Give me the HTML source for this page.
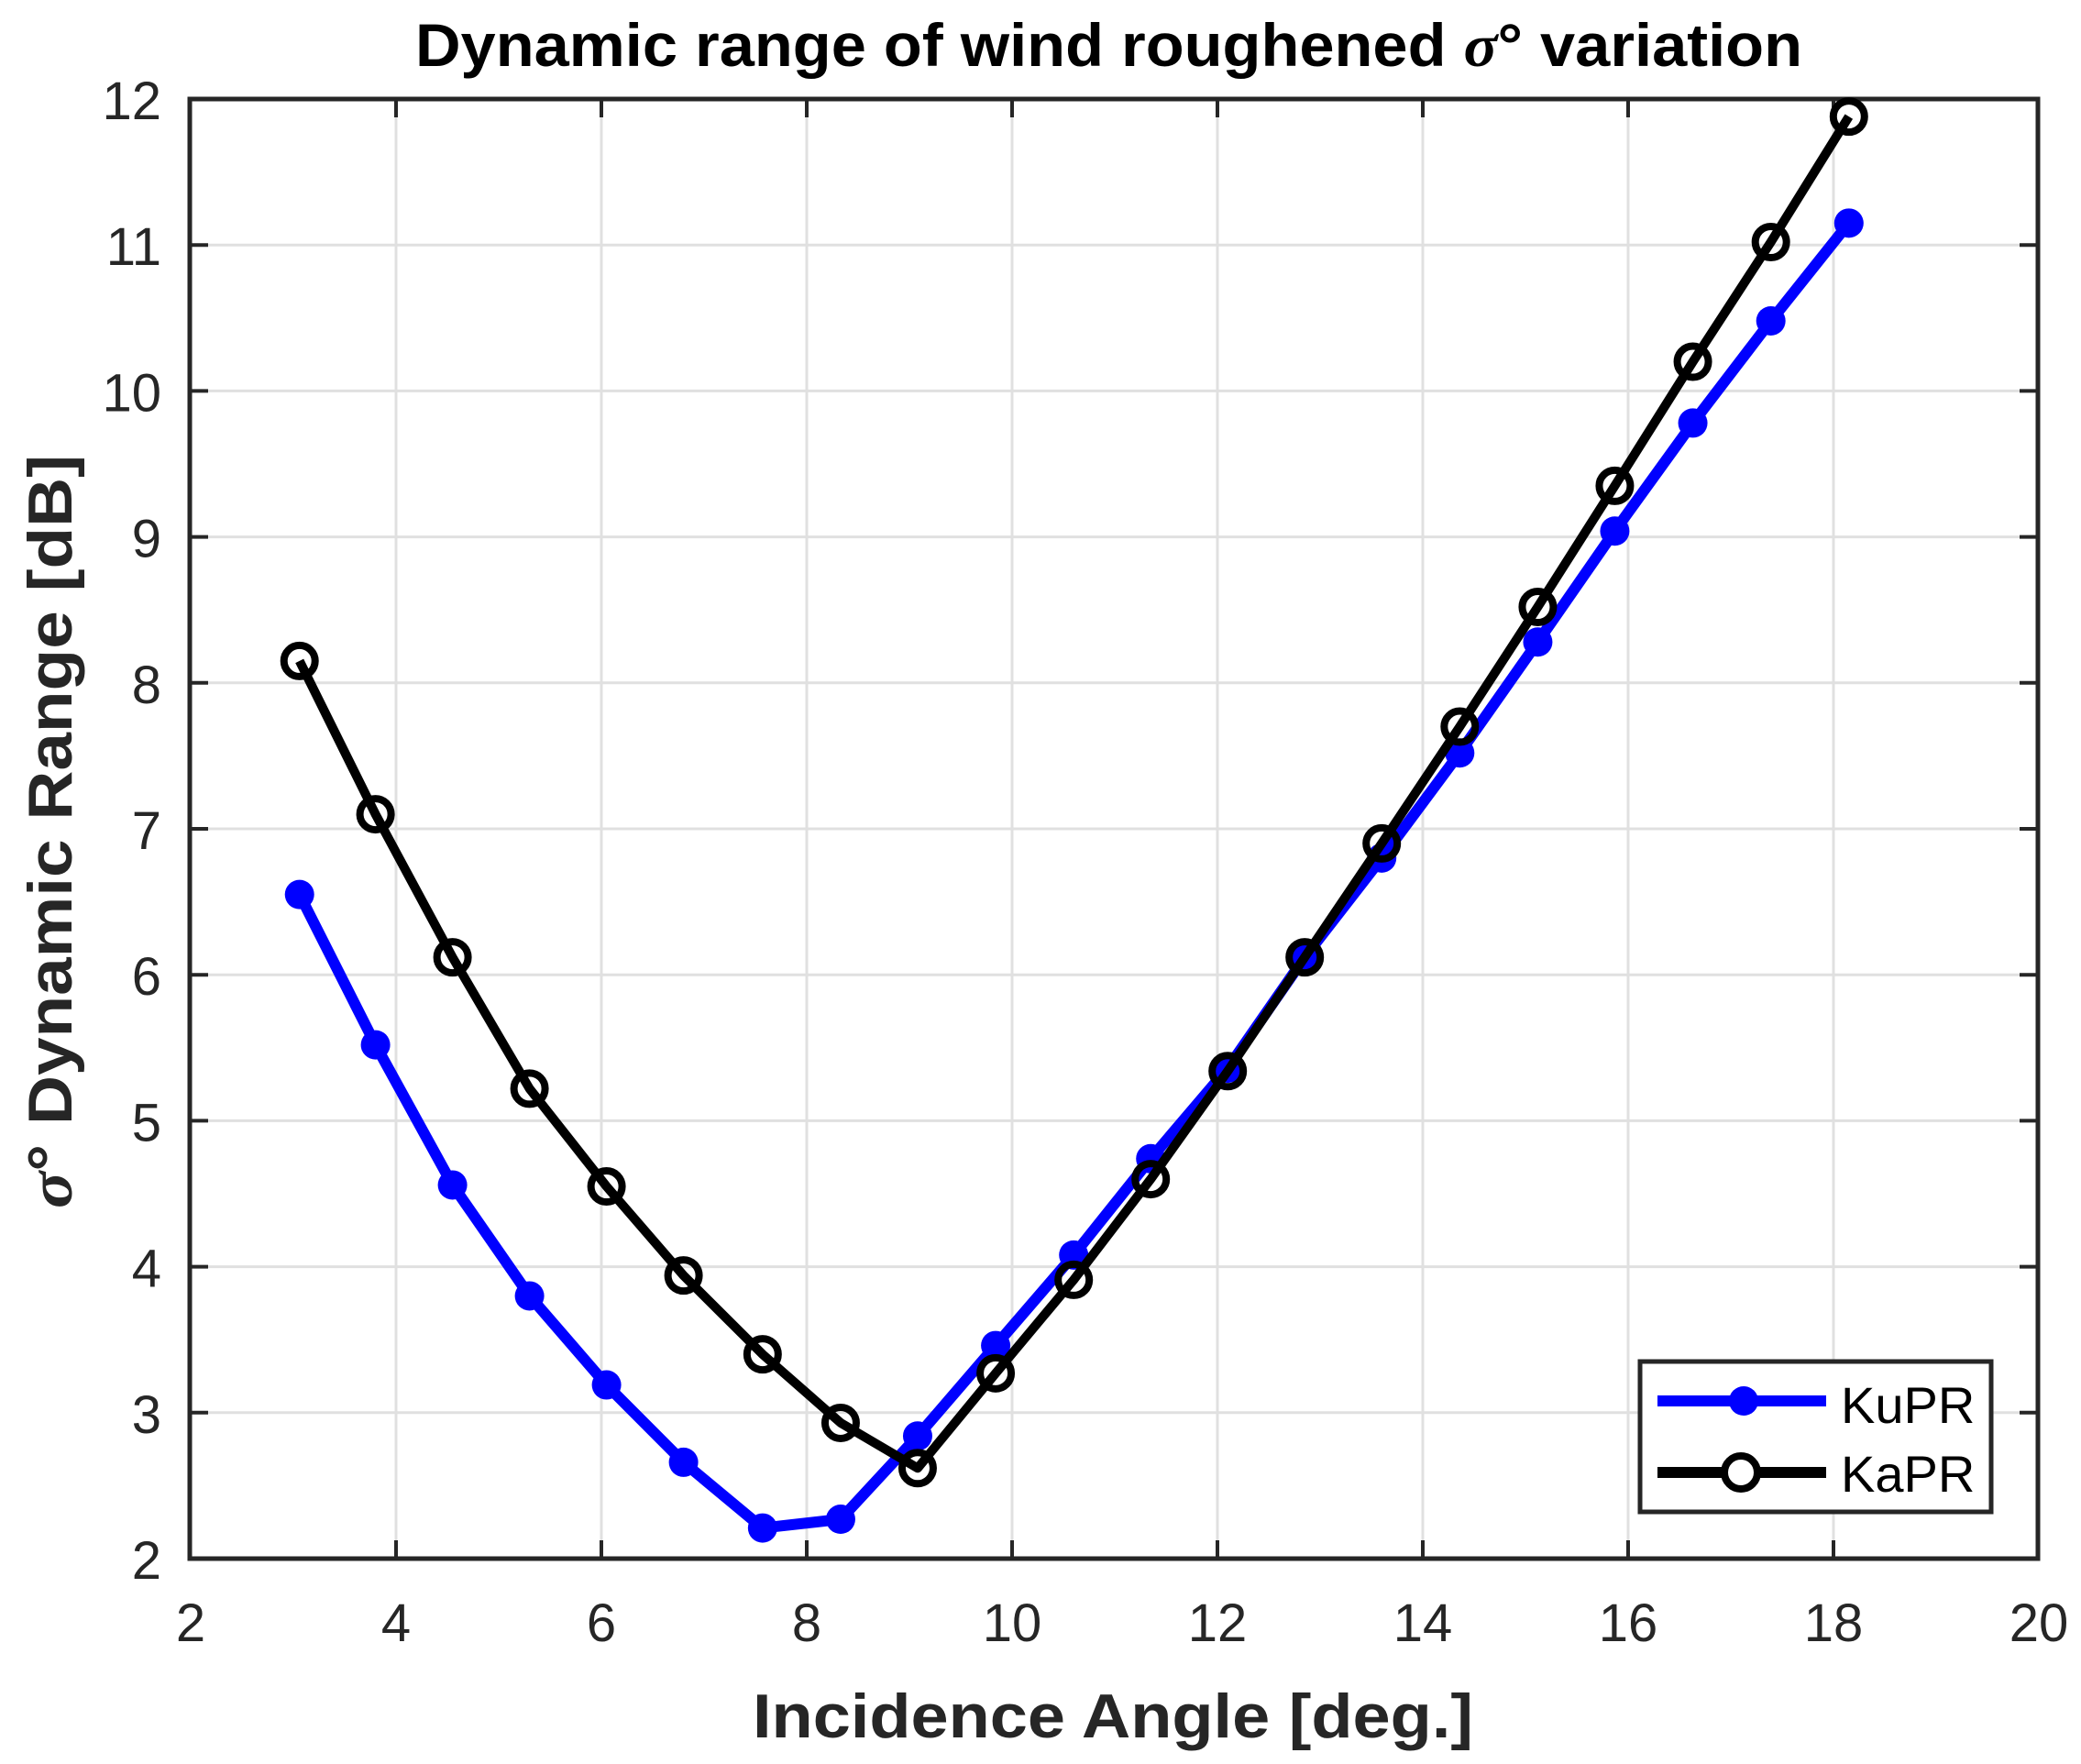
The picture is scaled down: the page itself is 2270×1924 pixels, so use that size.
<!DOCTYPE html>
<html><head><meta charset="utf-8"><style>html,body{margin:0;padding:0;background:#fff}svg{display:block}</style></head>
<body>
<svg width="2270" height="1924" viewBox="0 0 2270 1924" xmlns="http://www.w3.org/2000/svg" font-family="Liberation Sans, Arial, sans-serif">
<rect width="2270" height="1924" fill="#fff"/>
<g id="grid" stroke="#e0e0e0" stroke-width="3"></g>
<g id="ticks" stroke="#262626" stroke-width="4"></g>
<g id="labels" fill="#262626" font-size="58"></g>
<rect x="207" y="108" width="2016" height="1592" fill="none" stroke="#262626" stroke-width="5"/>
<g id="series"></g>
<text x="453" y="72" font-size="66" font-weight="bold" fill="#000" textLength="1513" lengthAdjust="spacingAndGlyphs">Dynamic range of wind roughened <tspan font-style="italic" font-family="Liberation Serif, serif">σ</tspan>° variation</text>
<text x="821" y="1895" font-size="68" font-weight="bold" fill="#262626" textLength="786" lengthAdjust="spacingAndGlyphs">Incidence Angle [deg.]</text>
<text transform="translate(78,1318) rotate(-90)" font-size="68" font-weight="bold" fill="#262626" textLength="822" lengthAdjust="spacingAndGlyphs"><tspan font-style="italic" font-family="Liberation Serif, serif">σ</tspan>° Dynamic Range [dB]</text>
<rect x="1789" y="1485" width="383" height="164" fill="#fff" stroke="#262626" stroke-width="5"/>
<line x1="1808" y1="1528" x2="1992" y2="1528" stroke="#0000ff" stroke-width="12"/>
<circle cx="1902" cy="1528" r="16" fill="#0000ff"/>
<line x1="1808" y1="1606" x2="1992" y2="1606" stroke="#000" stroke-width="12"/>
<circle cx="1899" cy="1606" r="18" fill="#fff" stroke="#000" stroke-width="8"/>
<text x="2008" y="1552" font-size="56" fill="#000">KuPR</text>
<text x="2008" y="1627" font-size="56" fill="#000">KaPR</text>
</svg>
<script>
const ns="http://www.w3.org/2000/svg";
const X=v=>208+(v-2)*112, Y=v=>1700-(v-2)*159.2;
const g=document.getElementById('grid'),t=document.getElementById('ticks'),l=document.getElementById('labels'),s=document.getElementById('series');
function el(p,n,a,txt){const e=document.createElementNS(ns,n);for(const k in a)e.setAttribute(k,a[k]);if(txt!==undefined)e.textContent=txt;p.appendChild(e);return e;}
for(let v=4;v<=18;v+=2){const x=X(v);el(g,'line',{x1:x,y1:108,x2:x,y2:1700});el(t,'line',{x1:x,y1:1700,x2:x,y2:1680});el(t,'line',{x1:x,y1:108,x2:x,y2:128});}
for(let v=2;v<=20;v+=2){el(l,'text',{x:X(v),y:1790,'text-anchor':'middle'},String(v));}
for(let v=3;v<=11;v++){const y=Y(v);el(g,'line',{x1:207,y1:y,x2:2223,y2:y});el(t,'line',{x1:207,y1:y,x2:227,y2:y});el(t,'line',{x1:2223,y1:y,x2:2203,y2:y});}
for(let v=2;v<=12;v++){el(l,'text',{x:176,y:Y(v)+22,'text-anchor':'end'},String(v));}
const xs=[3.06,3.8,4.55,5.3,6.05,6.8,7.57,8.33,9.08,9.84,10.6,11.35,12.1,12.85,13.6,14.36,15.12,15.87,16.63,17.39,18.15];
const ku=[6.55,5.52,4.56,3.8,3.19,2.66,2.21,2.27,2.84,3.46,4.08,4.74,5.36,6.12,6.8,7.52,8.28,9.04,9.78,10.48,11.15];
const ka=[8.15,7.1,6.12,5.22,4.55,3.94,3.4,2.93,2.62,3.27,3.91,4.6,5.34,6.12,6.9,7.7,8.52,9.35,10.2,11.02,11.88];
const pts=a=>xs.map((x,i)=>X(x).toFixed(1)+','+Y(a[i]).toFixed(1)).join(' ');
el(s,'polyline',{points:pts(ku),fill:'none',stroke:'#0000ff','stroke-width':12,'stroke-linejoin':'round'});
xs.forEach((x,i)=>el(s,'circle',{cx:X(x),cy:Y(ku[i]),r:16,fill:'#0000ff'}));
el(s,'polyline',{points:pts(ka),fill:'none',stroke:'#000','stroke-width':10,'stroke-linejoin':'round'});
xs.forEach((x,i)=>el(s,'circle',{cx:X(x),cy:Y(ka[i]),r:17,fill:'none',stroke:'#000','stroke-width':8}));
</script>
</body></html>
